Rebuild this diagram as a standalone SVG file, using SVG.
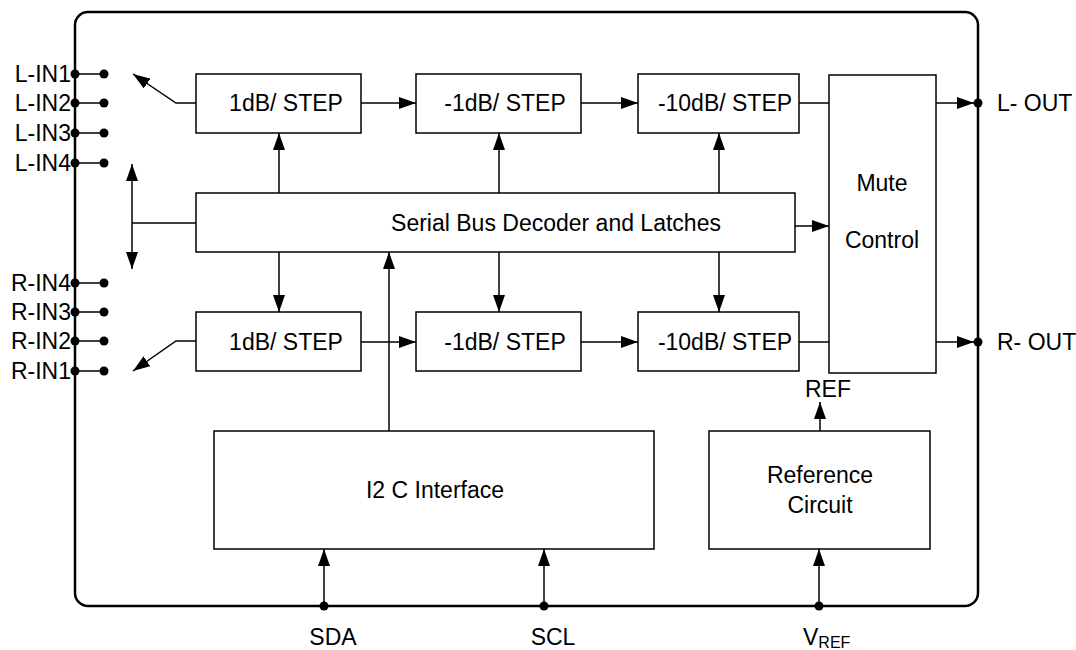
<svg xmlns="http://www.w3.org/2000/svg" width="1076" height="650" viewBox="0 0 1076 650">
<style>
.box{fill:#fff;stroke:#000;stroke-width:1.5}
.frame{fill:none;stroke:#000;stroke-width:2.5}
.ln{fill:none;stroke:#000;stroke-width:1.5}
.arr{fill:none;stroke:#000;stroke-width:1.5;marker-end:url(#ah)}
.dot{fill:#000}
text{font-family:"Liberation Sans",Arial,sans-serif;font-size:23px;fill:#000}
.mid{text-anchor:middle}
.end{text-anchor:end}
</style>
<defs>
<marker id="ah" viewBox="0 0 17 12" refX="17" refY="6" markerWidth="17" markerHeight="12" markerUnits="userSpaceOnUse" orient="auto-start-reverse">
<path d="M0,0 L17,6 L0,12 z" fill="#000"/>
</marker>
</defs>
<rect class="frame" x="75" y="12" width="903" height="594" rx="13" ry="13"/>
<g id="pins">
<g id="pin-l-in1"><line class="ln" x1="75" y1="74" x2="104" y2="74"/><circle class="dot" cx="75" cy="74" r="4.5"/><circle class="dot" cx="104" cy="74" r="4.5"/><text class="end" x="71" y="82">L-IN1</text></g>
<g id="pin-l-in2"><line class="ln" x1="75" y1="103" x2="104" y2="103"/><circle class="dot" cx="75" cy="103" r="4.5"/><circle class="dot" cx="104" cy="103" r="4.5"/><text class="end" x="71" y="111">L-IN2</text></g>
<g id="pin-l-in3"><line class="ln" x1="75" y1="133" x2="104" y2="133"/><circle class="dot" cx="75" cy="133" r="4.5"/><circle class="dot" cx="104" cy="133" r="4.5"/><text class="end" x="71" y="141">L-IN3</text></g>
<g id="pin-l-in4"><line class="ln" x1="75" y1="163" x2="104" y2="163"/><circle class="dot" cx="75" cy="163" r="4.5"/><circle class="dot" cx="104" cy="163" r="4.5"/><text class="end" x="71" y="171">L-IN4</text></g>
<g id="pin-r-in4"><line class="ln" x1="75" y1="283" x2="104" y2="283"/><circle class="dot" cx="75" cy="283" r="4.5"/><circle class="dot" cx="104" cy="283" r="4.5"/><text class="end" x="71" y="291">R-IN4</text></g>
<g id="pin-r-in3"><line class="ln" x1="75" y1="312" x2="104" y2="312"/><circle class="dot" cx="75" cy="312" r="4.5"/><circle class="dot" cx="104" cy="312" r="4.5"/><text class="end" x="71" y="320">R-IN3</text></g>
<g id="pin-r-in2"><line class="ln" x1="75" y1="341" x2="104" y2="341"/><circle class="dot" cx="75" cy="341" r="4.5"/><circle class="dot" cx="104" cy="341" r="4.5"/><text class="end" x="71" y="349">R-IN2</text></g>
<g id="pin-r-in1"><line class="ln" x1="75" y1="371" x2="104" y2="371"/><circle class="dot" cx="75" cy="371" r="4.5"/><circle class="dot" cx="104" cy="371" r="4.5"/><text class="end" x="71" y="379">R-IN1</text></g>
<g id="pin-l-out"><circle class="dot" cx="978" cy="103" r="4.5"/><text x="997" y="111">L- OUT</text></g>
<g id="pin-r-out"><circle class="dot" cx="978" cy="342" r="4.5"/><text x="997" y="350">R- OUT</text></g>
<g id="pin-sda"><circle class="dot" cx="324" cy="606" r="4.5"/><text class="mid" x="333" y="645">SDA</text></g>
<g id="pin-scl"><circle class="dot" cx="544" cy="606" r="4.5"/><text class="mid" x="553" y="645">SCL</text></g>
<g id="pin-vref"><circle class="dot" cx="819" cy="606" r="4.5"/><text x="803" y="645">V<tspan font-size="16" dy="3">REF</tspan></text></g>
</g>
<g id="connectors">
<polyline class="arr" points="196,103 176,103 133,74"/>
<polyline class="arr" points="196,341 176,341 133,371"/>
<line class="ln" x1="132" y1="223" x2="196" y2="223"/>
<line class="arr" x1="132" y1="216" x2="132" y2="164" />
<line class="arr" x1="132" y1="216" x2="132" y2="269" />
<line class="arr" x1="361" y1="103" x2="416" y2="103"/>
<line class="arr" x1="581" y1="103" x2="638" y2="103"/>
<line class="ln" x1="799" y1="103" x2="829" y2="103"/>
<line class="arr" x1="361" y1="342" x2="416" y2="342"/>
<line class="arr" x1="581" y1="342" x2="638" y2="342"/>
<line class="ln" x1="799" y1="342" x2="829" y2="342"/>
<line class="arr" x1="936" y1="103" x2="974" y2="103"/>
<line class="arr" x1="936" y1="342" x2="974" y2="342"/>
<line class="arr" x1="279" y1="193" x2="279" y2="133"/>
<line class="arr" x1="499" y1="193" x2="499" y2="133"/>
<line class="arr" x1="719" y1="193" x2="719" y2="133"/>
<line class="arr" x1="279" y1="252" x2="279" y2="312"/>
<line class="arr" x1="499" y1="252" x2="499" y2="312"/>
<line class="arr" x1="719" y1="252" x2="719" y2="312"/>
<line class="arr" x1="795" y1="226" x2="829" y2="226"/>
<line class="arr" x1="389" y1="431" x2="389" y2="252"/>
<line class="arr" x1="820" y1="431" x2="820" y2="402"/>
<line class="arr" x1="324" y1="606" x2="324" y2="549"/>
<line class="arr" x1="544" y1="606" x2="544" y2="549"/>
<line class="arr" x1="819" y1="606" x2="819" y2="549"/>
</g>
<g id="l-step1"><rect class="box" x="196" y="74" width="165" height="59"/><text class="mid" x="286" y="111">1dB/ STEP</text></g>
<g id="l-step2"><rect class="box" x="416" y="74" width="165" height="59"/><text class="mid" x="505" y="111">-1dB/ STEP</text></g>
<g id="l-step3"><rect class="box" x="638" y="74" width="161" height="59"/><text class="mid" x="725" y="111">-10dB/ STEP</text></g>
<g id="r-step1"><rect class="box" x="196" y="312" width="165" height="59"/><text class="mid" x="286" y="350">1dB/ STEP</text></g>
<g id="r-step2"><rect class="box" x="416" y="312" width="165" height="59"/><text class="mid" x="505" y="350">-1dB/ STEP</text></g>
<g id="r-step3"><rect class="box" x="638" y="312" width="161" height="59"/><text class="mid" x="725" y="350">-10dB/ STEP</text></g>
<g id="serial-bus"><rect class="box" x="196" y="193" width="599" height="59"/><text class="mid" x="556" y="231">Serial Bus Decoder and Latches</text></g>
<g id="mute"><rect class="box" x="829" y="75" width="107" height="298"/><text class="mid" x="882" y="191">Mute</text><text class="mid" x="882" y="248">Control</text></g>
<g id="i2c"><rect class="box" x="214" y="431" width="440" height="118"/><text class="mid" x="435" y="498">I2 C Interface</text></g>
<g id="refcirc"><rect class="box" x="709" y="431" width="221" height="118"/><text class="mid" x="820" y="483">Reference</text><text class="mid" x="820" y="513">Circuit</text></g>
<g id="ref-label"><text class="mid" x="828" y="397">REF</text></g>
</svg>
